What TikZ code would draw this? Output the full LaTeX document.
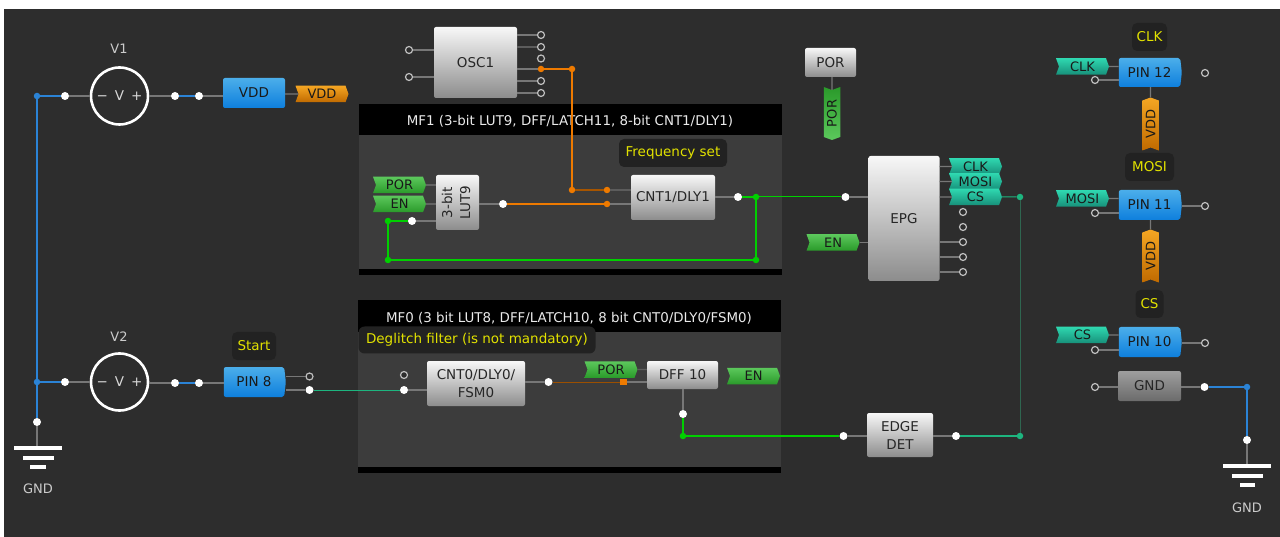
\documentclass[tikz,border=0pt]{standalone}
\usepackage{fontspec}
\setmainfont{DejaVu Sans}
\usepackage{xcolor}
\usetikzlibrary{positioning,calc,shapes.symbols}
\definecolor{canvas}{HTML}{2D2D2D}
\definecolor{panel}{HTML}{3C3C3C}
\definecolor{capbox}{HTML}{222222}
\definecolor{capink}{HTML}{E2E200}
\definecolor{wiregrey}{HTML}{777777}
\definecolor{netblue}{HTML}{2B83D6}
\definecolor{netgreen}{HTML}{00D000}
\definecolor{netorange}{HTML}{EE7A00}
\definecolor{netteal}{HTML}{1DB57F}
\definecolor{netdim}{HTML}{2F6650}
\definecolor{pintop}{HTML}{4BAEEA}
\definecolor{pinbot}{HTML}{0E7FDD}
\definecolor{greentop}{HTML}{5CC85C}
\definecolor{greenbot}{HTML}{2A9A2A}
\definecolor{tealtop}{HTML}{2FD8B0}
\definecolor{tealbot}{HTML}{17907A}
\definecolor{orangetop}{HTML}{F5A623}
\definecolor{orangebot}{HTML}{C06A00}
\newcommand{\txt}[1]{\fontsize{#1}{18}\selectfont}

\begin{document}
\begin{tikzpicture}[x=1pt,y=-1pt,
  block/.style={rectangle,rounded corners=2pt,inner sep=0pt,top color=white!97!black,bottom color=black!45,
    text=black!85,align=center,font=\txt{13.5}},
  pinblock/.style={block,top color=pintop,bottom color=pinbot,text=black!90},
  pinpoint/.style={pinblock,signal,signal to=east,signal pointer angle=167},
  tagbase/.style={signal,signal pointer angle=140,inner sep=0pt,minimum height=16.5,minimum width=53,
    text=black!90,font=\txt{13}},
  greentag/.style={tagbase,signal from=west,signal to=east,top color=greentop,bottom color=greenbot},
  tealtag/.style={tagbase,signal from=west,signal to=east,top color=tealtop,bottom color=tealbot},
  orangetag/.style={tagbase,signal from=west,signal to=east,top color=orangetop,bottom color=orangebot},
  caption/.style={fill=capbox,rounded corners=5pt,text=capink,inner sep=0pt,font=\txt{13.5}},
  title/.style={text=white!92!black,font=\txt{13.4}},
  plain/.style={text=white!80!black,font=\txt{13}},
  portfull/.style={circle,fill=white,inner sep=0pt,minimum size=8},
  portopen/.style={circle,draw=white!75!black,fill=canvas,line width=1.2pt,inner sep=0pt,minimum size=7},
  joint/.style={circle,fill=#1,inner sep=0pt,minimum size=6.5},
  bar/.style={rectangle,fill=white,inner sep=0pt,minimum height=4},
  source/.style={circle,draw=white,line width=2.6pt,minimum size=57,inner sep=0pt,text=white!85!black,font=\txt{13.5}},
  stub/.style={draw=wiregrey,line width=1.2pt},
  faint/.style={draw=wiregrey!55!panel,line width=1.2pt},
  net/.style={draw=#1,line width=1.8pt},
  thinnet/.style={draw=#1,line width=1pt}]
  \fill[canvas] (4,9) rectangle (1280,537);
  \useasboundingbox (0,0) rectangle (1280,537);

  % matrix panels
  \node[fill=black,minimum width=423,minimum height=171,inner sep=0pt] (mf1) at (570.5,189.5) {};
  \node[fill=panel,minimum width=423,minimum height=134,inner sep=0pt] (mf1body) at (570.5,202) {};
  \node[title] (mf1title) at (570,121) {MF1 (3-bit LUT9, DFF/LATCH11, 8-bit CNT1/DLY1)};
  \node[fill=black,minimum width=423,minimum height=173,inner sep=0pt] (mf0) at (569.5,386.5) {};
  \node[fill=panel,minimum width=423,minimum height=135,inner sep=0pt] (mf0body) at (569.5,399.5) {};
  \node[title] (mf0title) at (569,318) {MF0 (3 bit LUT8, DFF/LATCH10, 8 bit CNT0/DLY0/FSM0)};

  % captions
  \node[caption,minimum width=44,minimum height=28] (capstart) at (254,346) {Start};
  \node[caption,minimum width=108,minimum height=28] (capfreq) at (673,153) {Frequency set};
  \node[caption,minimum width=237,minimum height=27,rounded corners=6pt] (capglitch) at (477,340) {Deglitch filter (is not mandatory)};
  \node[caption,minimum width=35,minimum height=28] (capclk) at (1149.5,37) {CLK};
  \node[caption,minimum width=49,minimum height=28] (capmosi) at (1149.5,167) {MOSI};
  \node[caption,minimum width=28,minimum height=28] (capcs) at (1149.5,304) {CS};

  % blocks
  \node[block,minimum width=83,minimum height=71] (osc) at (475.5,62.5) {OSC1};
  \node[block,minimum width=43,minimum height=55] (lut) at (457.5,202.5) {\rotatebox{90}{\begin{tabular}{@{}c@{}}3-bit\\LUT9\end{tabular}}};
  \node[block,minimum width=84,minimum height=45] (cnt1) at (673,197.5) {CNT1/DLY1};
  \node[block,minimum width=51,minimum height=29] (porblock) at (830.5,62.5) {POR};
  \node[block,minimum width=71,minimum height=125] (epg) at (904,218.5) {EPG};
  \node[block,minimum width=98,minimum height=45] (cnt0) at (476,383.5) {CNT0/DLY0/\\FSM0};
  \node[block,minimum width=71,minimum height=28] (dff) at (682.5,375) {DFF 10};
  \node[block,minimum width=66,minimum height=44] (edge) at (900,435) {EDGE\\DET};
  \node[block,top color=black!38,bottom color=black!58,minimum width=63,minimum height=30] (gndblock) at (1149.5,386) {GND};
  \node[pinblock,minimum width=62,minimum height=30] (vdd) at (254,93) {VDD};
  \node[pinpoint,minimum width=62,minimum height=30] (pin8) at (254,382) {PIN 8};
  \node[pinpoint,minimum width=63,minimum height=29] (pin12) at (1149.5,72.5) {PIN 12};
  \node[pinpoint,minimum width=63,minimum height=30] (pin11) at (1149.5,205) {PIN 11};
  \node[pinpoint,minimum width=63,minimum height=30] (pin10) at (1149.5,342) {PIN 10};

  % voltage sources
  \node[source] (v1) at (119.5,96) {−\hspace{7pt}V\hspace{7pt}+};
  \node[source] (v2) at (119.5,382) {−\hspace{7pt}V\hspace{7pt}+};
  \node[plain] (v1name) at (119,49) {V1};
  \node[plain] (v2name) at (119,337) {V2};

  % signal tags
  \node[orangetag] (tagvdd) at (322,94) {VDD};
  \node[greentag] (taglutpor) at (399.5,185) {POR};
  \node[greentag] (taglutin) at (399.5,204) {EN};
  \node[greentag] (tagdffpor) at (611,369.5) {POR};
  \node[greentag] (tagdffout) at (753.5,376) {EN};
  \node[greentag] (tagepgin) at (833,242.5) {EN};
  \node[tealtag] (tagclk) at (975.5,166.5) {CLK};
  \node[tealtag] (tagmosi) at (975.5,181.5) {MOSI};
  \node[tealtag] (tagcs) at (975.5,197) {CS};
  \node[tealtag] (inclk) at (1082.5,66.5) {CLK};
  \node[tealtag] (inmosi) at (1082.5,198.5) {MOSI};
  \node[tealtag] (incs) at (1082.5,335) {CS};
  \node[tagbase,rotate=90,signal from=east,signal to=west,top color=greenbot,bottom color=greentop] (tagpor) at (832,113.5) {POR};
  \node[tagbase,rotate=90,signal from=west,signal to=east,top color=orangetop,bottom color=orangebot] (vcca) at (1150.5,124) {VDD};
  \node[tagbase,rotate=90,signal from=west,signal to=east,top color=orangetop,bottom color=orangebot] (vccb) at (1150.5,256) {VDD};

  % ports
  \foreach \n/\x/\y in {pv1l/65/96,pv1r/175/96,pvdd/199/96,pv2l/65/382,pv2r/175/383,ppin8/199/383,
    pgnda/37/422,pstart/309.5/390,pcnt0/404/390,pcnt0r/548.5/382,pdffout/683/414,pedgel/843.5/436,pedger/956/436,
    plut/503/204,pfb/412/221,pcnt1/738/197,pepg/845.5/197,pgndr/1204.5/387,pgndb/1247/440}
    {\node[portfull] (\n) at (\x,\y) {};}
  \foreach \n/\x/\y in {po1/409/50,po2/409/77,po3/541/35,po4/541/47,po5/541/58.5,po6/541/81,po7/541/93,
    pe1/963/212,pe2/963/227,pe3/963/242,pe4/963/257,pe5/963/272,pstarto/309.5/376.5,pcnt0o/404/375,
    p12a/1095/80,p12b/1205/73,p11a/1095/213,p11b/1205/206,p10a/1095/350,p10b/1205/343,pgndl/1095/387}
    {\node[portopen] (\n) at (\x,\y) {};}

  % joints
  \foreach \n/\x/\y/\col in {jv1/37/96/netblue,jv2/37/382/netblue,jgndr/1247/387/netblue,
    josc/541/69/netorange,jorange/572/69/netorange,jdown/572/190/netorange,jcnta/607/190/netorange,jcntb/607/204/netorange,
    jfb/756/197/netgreen,jfbb/756/260/netgreen,jfbc/388/260/netgreen,jfbd/388/221/netgreen,
    jdff/683/436/netgreen,jcs/1020/197/netteal,jedge/1020/436/netteal}
    {\node[joint=\col] (\n) at (\x,\y) {};}
  \node[rectangle,fill=netorange,inner sep=0pt,minimum size=6.5] (jdffin) at (623.5,382) {};

  % ground symbols
  \node[bar,minimum width=48] (gla) at (38,448) {};
  \node[bar,minimum width=31] (glb) at (38,458) {};
  \node[bar,minimum width=16] (glc) at (38,467) {};
  \node[plain] (glname) at (38,489) {GND};
  \node[bar,minimum width=48] (gra) at (1247,466) {};
  \node[bar,minimum width=31] (grb) at (1247,475.5) {};
  \node[bar,minimum width=15] (grc) at (1247,485) {};
  \node[plain] (grname) at (1247,508) {GND};

  % grey stubs
  \foreach \p/\b in {pv1l/v1.west,pv1r/v1.east,pv2l/v2.west,pv2r/v2.east,pvdd/vdd.west,ppin8/pin8.west,tagvdd/vdd.east,
    pedgel/edge.west,pedger/edge.east,pgndl/gndblock.west,pgndr/gndblock.east,pcnt0/cnt0.west,pcnt0r/cnt0.east,
    pcnt1/cnt1.east,pepg/epg.west,tagepgin/epg.west,po1/osc.west,po2/osc.west,po3/osc.east,po6/osc.east,po7/osc.east,
    josc/osc.east,pstarto/pin8.east,pstart/pin8.east,plut/lut.east,pfb/lut.west,jcntb/cnt1.west,
    jdffin/dff.west,p12a/pin12.west,p11a/pin11.west,p10a/pin10.west,p11b/pin11.east,p10b/pin10.east,
    pe3/epg.east,pe4/epg.east,pe5/epg.east,taglutpor/lut.west,taglutin/lut.west,
    tagclk/epg.east,tagmosi/epg.east,tagcs/epg.east,inclk/pin12.west,inmosi/pin11.west,incs/pin10.west}
    {\draw[stub] (\p)--(\p-|\b);}
  \foreach \p/\b in {po4/osc.east,jcnta/cnt1.west,tagdffpor/dff.west}
    {\draw[faint] (\p)--(\p-|\b);}
  \draw[stub] (pdffout)--(pdffout|-dff.south);
  \draw[stub] (pgnda)--(pgnda|-gla.north);
  \draw[stub] (pgndb)--(pgndb|-gra.north);
  \draw[stub] (tagpor)--(tagpor|-porblock.south);
  \draw[stub] (vcca)--(vcca|-pin12.south);
  \draw[stub] (vccb)--(vccb|-pin11.south);

  % nets
  \draw[net=netblue] (pv1l)--(jv1)--(jv2)--(pgnda);
  \draw[net=netblue] (jv2)--(pv2l);
  \draw[net=netblue] (pv1r)--(pvdd);
  \draw[net=netblue] (pv2r)--(ppin8);
  \draw[net=netblue] (pgndr)--(jgndr)--(pgndb);
  \draw[net=netorange] (josc)--(jorange)--(jdown);
  \draw[net=netorange] (plut)--(jcntb);
  \draw[net=netorange!70!black] (jdown)--(jcnta);
  \draw[thinnet=netorange!65!black] (pcnt0r)--(jdffin);
  \draw[net=netgreen] (pfb)--(jfbd)--(jfbc)--(jfbb)--(jfb);
  \draw[net=netgreen] (pcnt1)--(jfb);
  \draw[thinnet=netgreen] (jfb)--(pepg);
  \draw[net=netgreen] (pdffout)--(jdff)--(pedgel);
  \draw[net=netteal] (pedger)--(jedge);
  \draw[thinnet=netteal] (pstart)--(pcnt0);
  \draw[thinnet=netteal] (tagcs)--(jcs);
  \draw[thinnet=netdim] (jcs)--(jedge);
\end{tikzpicture}
\end{document}
